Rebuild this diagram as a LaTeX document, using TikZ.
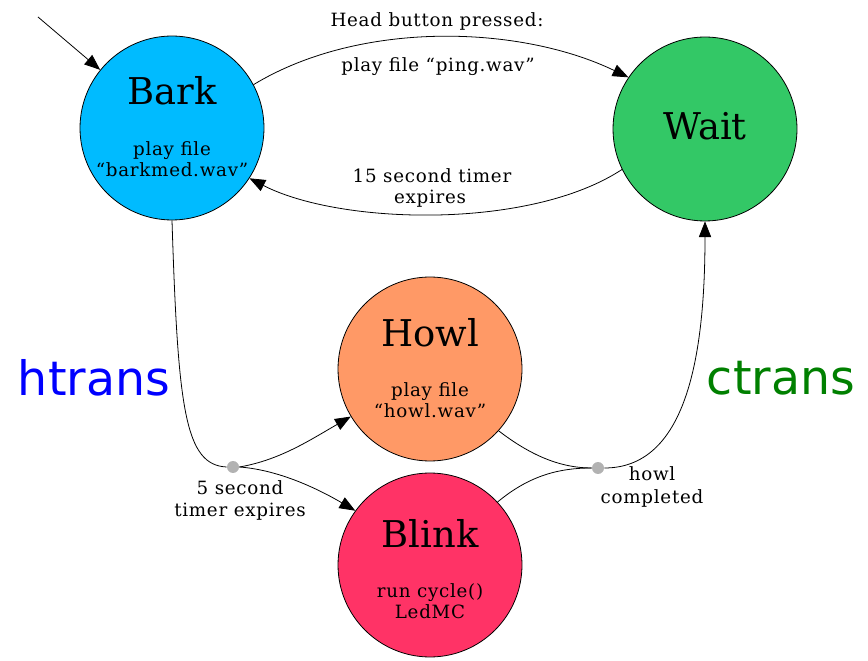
\documentclass[tikz,border=0pt]{standalone}
\usepackage{fontspec}
\setmainfont{DejaVu Serif}
\newfontfamily\infofont[LetterSpace=4]{DejaVu Serif}
\newfontfamily\tagfont{DejaVu Sans}
\usetikzlibrary{arrows.meta}
\definecolor{barkblue}{HTML}{00BBFF}
\definecolor{waitgreen}{HTML}{33C866}
\definecolor{howlorange}{HTML}{FF9966}
\definecolor{blinkred}{HTML}{FF3366}
\definecolor{transgreen}{HTML}{008000}
\begin{document}
\begin{tikzpicture}[x=0.02cm, y=-0.02cm, line width=0.45pt,
    state/.style={draw, circle, inner sep=0pt, minimum size=3.68cm},
    title/.style={anchor=base, font=\fontsize{21}{24}\selectfont},
    info/.style={anchor=base, font=\infofont\fontsize{10.4}{12}\selectfont, inner sep=0pt},
    junction/.style={circle, fill=black!30, inner sep=0pt, minimum size=0.24cm},
    arr/.style={-{Triangle[length=9pt,width=7pt]}},
    trans/.style={anchor=base, font=\tagfont\fontsize{27}{30}\selectfont}]
    \useasboundingbox (0,0) rectangle (868,661);

    % States
    \node[state, fill=barkblue] (Bark) at (172,128) {};
    \node[state, fill=waitgreen] (Wait) at (705,129) {};
    \node[state, fill=howlorange] (Howl) at (430,369) {};
    \node[state, fill=blinkred] (Blink) at (430,565) {};

    % State texts
    \node[title] (barkT) at (172,105) {Bark};
    \node[info] (barkA) at (172,156) {play file};
    \node[info] (barkB) at (172,177) {“barkmed.wav”};
    \node[title] (waitT) at (705,140) {Wait};
    \node[title] (howlT) at (430,347) {Howl};
    \node[info] (howlA) at (430,397) {play file};
    \node[info] (howlB) at (430,418) {“howl.wav”};
    \node[title] (blinkT) at (430,547) {Blink};
    \node[info] (blinkA) at (430,597) {run cycle()};
    \node[info] (blinkB) at (430,618) {LedMC};

    % Junction points
    \node[junction] (J1) at (233,467) {};
    \node[junction] (J2) at (598,468) {};

    % Initial arrow
    \coordinate (start) at (38,17);
    \draw[arr] (start) -- (Bark.141);

    % Bark and Wait
    \draw[arr] (Bark.28) .. controls (360,20) and (520,25) .. (Wait.146);
    \draw[arr] (Wait.206) .. controls (530,230) and (340,225) .. (Bark.327);

    % htrans
    \draw (Bark.south) .. controls (178,410) and (185,465) .. (J1.west);
    \draw[arr] (J1.east) .. controls (280,460) and (310,440) .. (Howl.211);
    \draw[arr] (J1.east) .. controls (280,470) and (320,490) .. (Blink.144);

    % ctrans
    \draw (Howl.318) .. controls (530,455) and (560,468) .. (J2.west);
    \draw (Blink.43) .. controls (530,475) and (560,468) .. (J2.west);
    \draw[arr] (J2.east) .. controls (685,468) and (705,360) .. (Wait.south);

    % Transition labels
    \node[info] (headA) at (437,27) {Head button pressed:};
    \node[info] (headB) at (438,72) {play file “ping.wav”};
    \node[info] (timerA) at (432,183) {15 second timer};
    \node[info] (timerB) at (430,204) {expires};
    \node[info] (fiveA) at (240,495) {5 second};
    \node[info] (fiveB) at (240,517) {timer expires};
    \node[info] (doneA) at (652,480) {howl};
    \node[info] (doneB) at (652,503) {completed};

    \node[trans, text=blue] (htrans) at (94,396) {htrans};
    \node[trans, text=transgreen] (ctrans) at (781,395) {ctrans};
\end{tikzpicture}
\end{document}
